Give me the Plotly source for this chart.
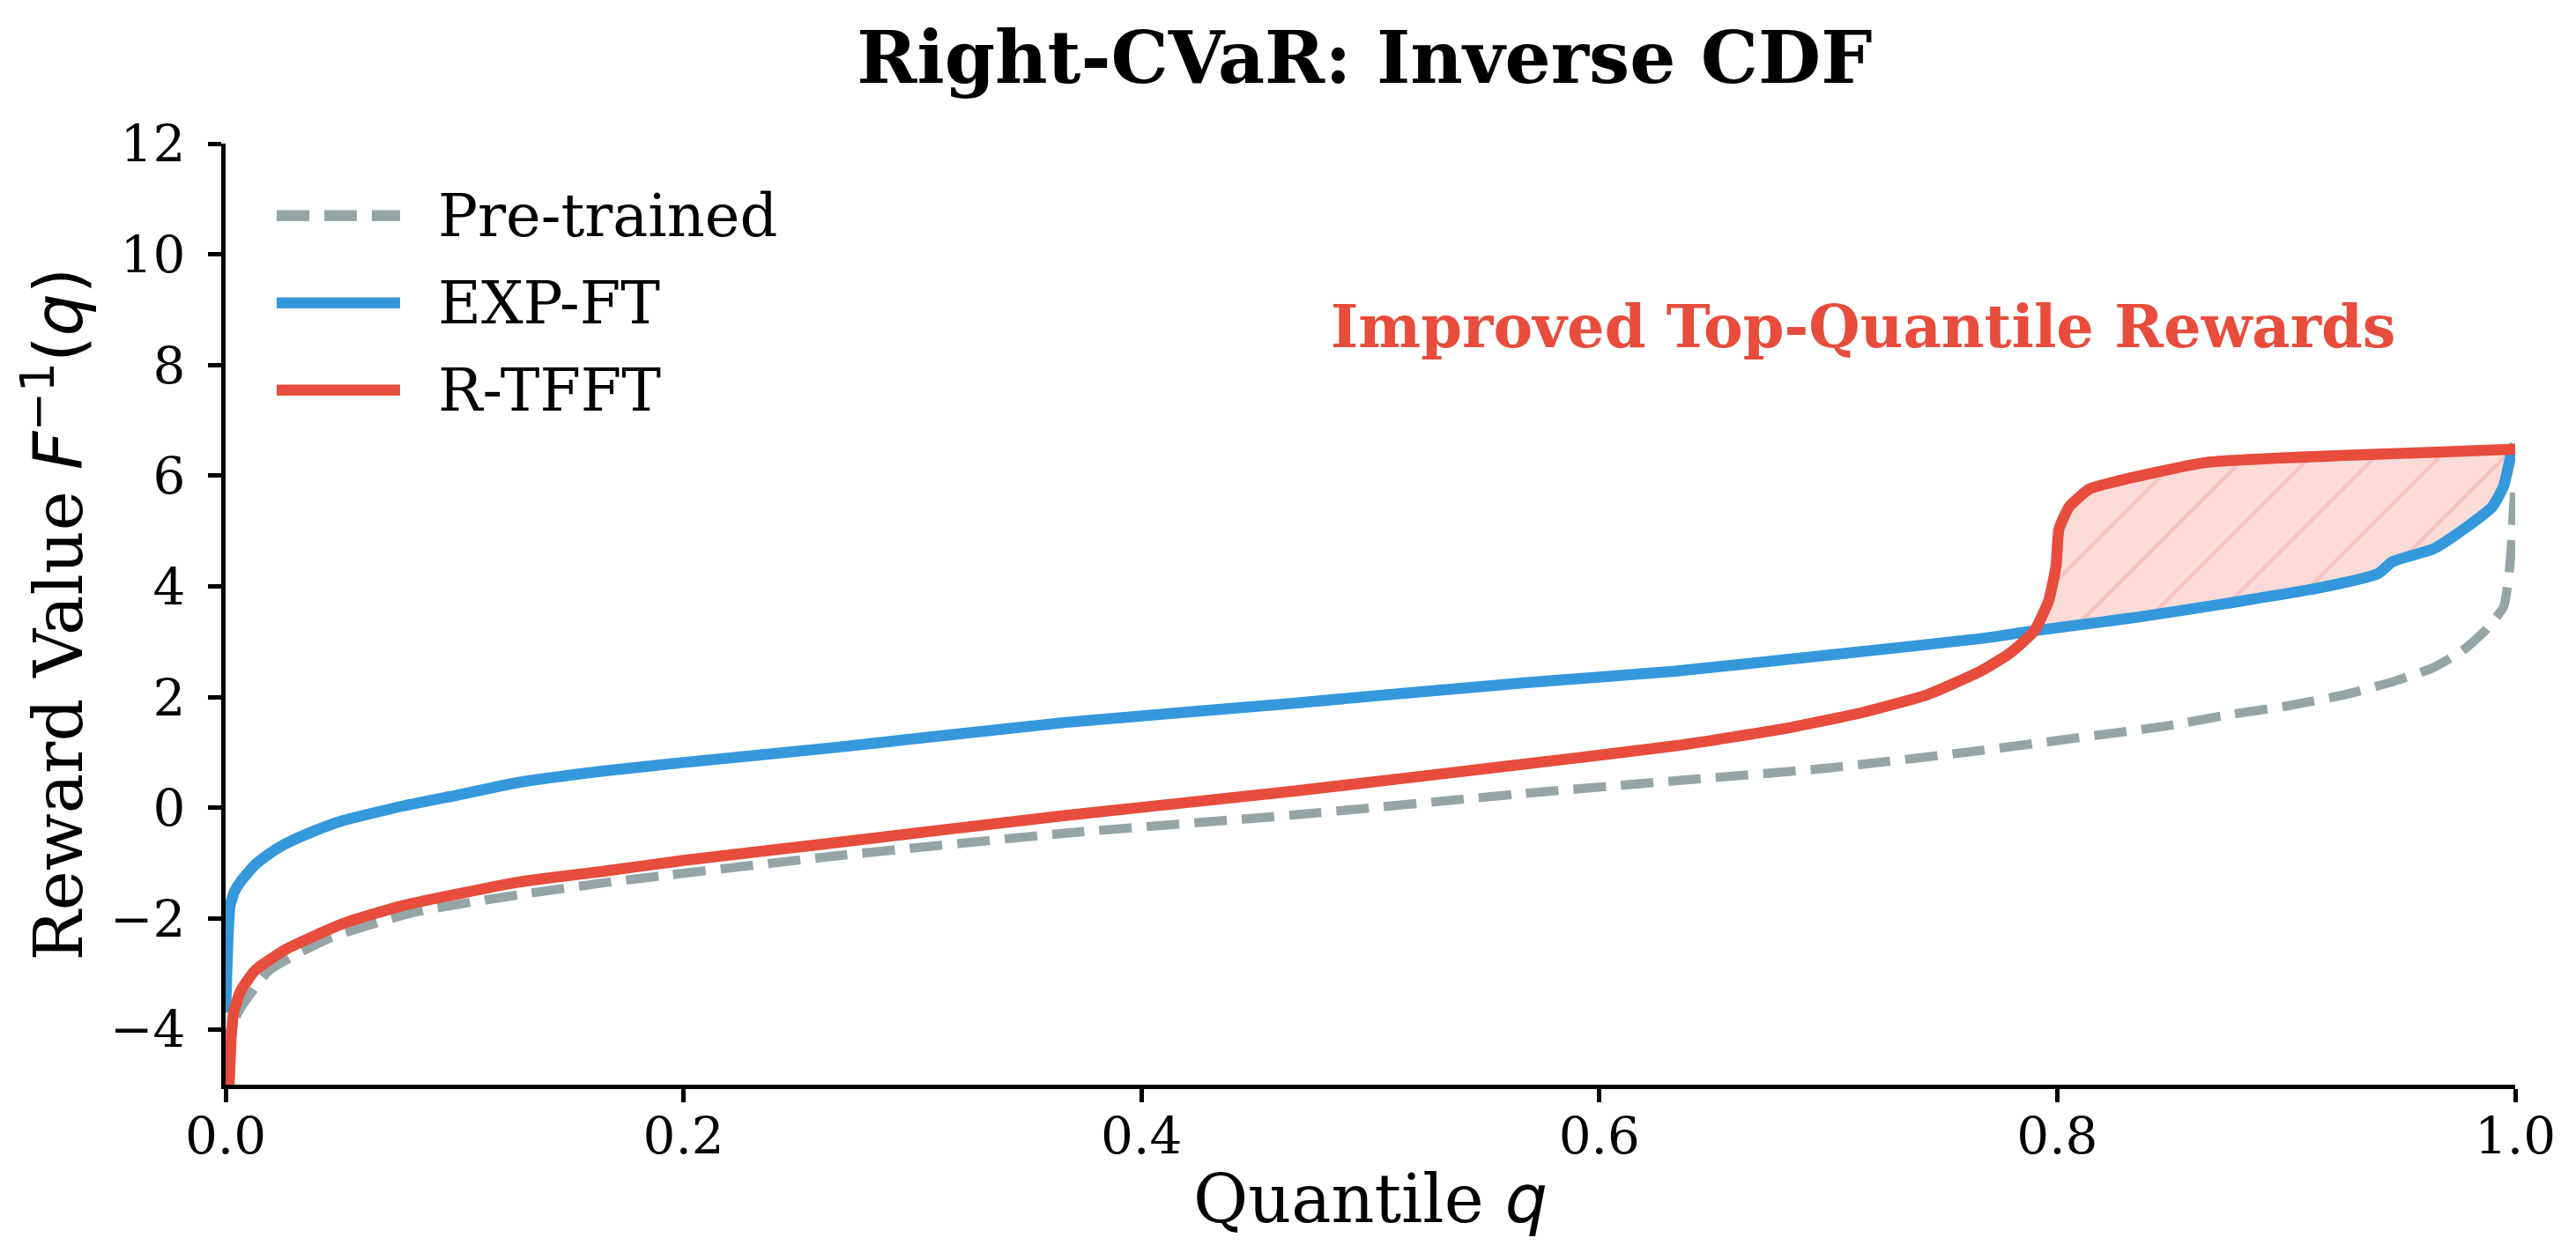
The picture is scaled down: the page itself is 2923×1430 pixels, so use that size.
import plotly.graph_objects as go

# ---- data ----
series_names = ["Pre-trained", "EXP-FT", "R-TFFT"]

pre_q = [0, 0.002, 0.0064, 0.019, 0.045, 0.083, 0.128, 0.166, 0.192, 0.266, 0.366, 0.466,
         0.567, 0.633, 0.7, 0.767, 0.849, 0.8745, 0.9, 0.926, 0.945, 0.964, 0.977, 0.987,
         0.995, 0.9977, 1.0]
pre_v = [-4.6, -4.0, -3.63, -2.94, -2.36, -1.88, -1.57, -1.35, -1.22, -0.87, -0.46, -0.13,
         0.26, 0.49, 0.72, 1.04, 1.49, 1.68, 1.84, 2.05, 2.26, 2.53, 2.84, 3.21,
         3.64, 4.39, 5.95]

exp_q = [0, 0.0005, 0.001, 0.0019, 0.004, 0.0064, 0.0128, 0.019, 0.0257, 0.038, 0.0513,
         0.077, 0.1, 0.128, 0.166, 0.2, 0.266, 0.366, 0.466, 0.567, 0.633, 0.7, 0.767, 0.79,
         0.818, 0.836, 0.872, 0.914, 0.94, 0.9465, 0.9643, 0.977, 0.99, 0.995, 0.9983, 1.0]
exp_v = [-3.7, -3.0, -2.4, -1.77, -1.5, -1.34, -1.03, -0.83, -0.66, -0.43, -0.23,
         0.03, 0.22, 0.46, 0.67, 0.82, 1.09, 1.54, 1.89, 2.26, 2.47, 2.76, 3.06, 3.2,
         3.35, 3.45, 3.68, 3.97, 4.23, 4.45, 4.68, 5.02, 5.44, 5.82, 6.40, 6.56]

rt_q = [0, 0.0015, 0.0025, 0.0035, 0.0064, 0.0128, 0.0257, 0.0513, 0.077, 0.128, 0.166,
        0.2, 0.266, 0.366, 0.466, 0.567, 0.633, 0.682, 0.7155, 0.7436, 0.767, 0.7795,
        0.79, 0.7963, 0.7995, 0.8007, 0.8052, 0.814, 0.823, 0.865, 0.967, 1.0]
rt_v = [-5.5, -5.0, -4.1, -3.7, -3.32, -2.94, -2.57, -2.09, -1.77, -1.34, -1.14,
        -0.95, -0.63, -0.14, 0.30, 0.79, 1.12, 1.44, 1.73, 2.05, 2.48, 2.80,
        3.2, 3.75, 4.39, 5.03, 5.44, 5.76, 5.87, 6.24, 6.43, 6.48]

x_ticks = [0.0, 0.2, 0.4, 0.6, 0.8, 1.0]
y_ticks = [-4, -2, 0, 2, 4, 6, 8, 10, 12]

GRAY = "#95a5a6"
BLUE = "#3498db"
RED = "#e74c3c"
SERIF = "DejaVu Serif"

fig = go.Figure()

# shaded gain region where R-TFFT beats EXP-FT (from the crossing to q=1)
q_cross = 0.79
fill_x = [q for q in rt_q if q >= q_cross] + [q for q in exp_q if q >= q_cross][::-1]
fill_y = [v for q, v in zip(rt_q, rt_v) if q >= q_cross] + \
         [v for q, v in zip(exp_q, exp_v) if q >= q_cross][::-1]
fig.add_trace(go.Scatter(x=fill_x, y=fill_y, mode="lines", fill="toself",
                         line=dict(width=0, color="rgba(0,0,0,0)"),
                         fillcolor="rgba(231,76,60,0.2)",
                         fillpattern=dict(shape="/", fgcolor="rgba(231,76,60,0.35)",
                                          bgcolor="rgba(231,76,60,0.2)", size=52,
                                          solidity=0.08),
                         hoverinfo="skip", showlegend=False))

fig.add_trace(go.Scatter(x=pre_q, y=pre_v, mode="lines", name=series_names[0],
                         line=dict(color=GRAY, width=10.4, dash="37px,17px",
                                   shape="spline", smoothing=0.5),
                         showlegend=False))
fig.add_trace(go.Scatter(x=exp_q, y=exp_v, mode="lines", name=series_names[1],
                         line=dict(color=BLUE, width=12.5, shape="spline", smoothing=0.5),
                         showlegend=False))
fig.add_trace(go.Scatter(x=rt_q, y=rt_v, mode="lines", name=series_names[2],
                         line=dict(color=RED, width=12.5, shape="spline", smoothing=0.5),
                         showlegend=False))

# hand-made legend (matplotlib-style long handles)
leg_colors = [GRAY, BLUE, RED]
leg_dash = ["37px,17px", "solid", "solid"]
leg_rows = [0.9235, 0.8308, 0.7381]
shapes = []
annotations = []
for name, col, dash, yy in zip(series_names, leg_colors, leg_dash, leg_rows):
    shapes.append(dict(type="line", xref="paper", yref="paper", x0=0.0223, x1=0.0762,
                       y0=yy, y1=yy, line=dict(color=col, width=12.5, dash=dash)))
    annotations.append(dict(xref="paper", yref="paper", x=0.092, y=yy, text=name,
                            showarrow=False, xanchor="left", yanchor="middle",
                            font=dict(family=SERIF, size=67, color="black")))

annotations.append(dict(x=0.7155, y=8.7, xref="x", yref="y",
                        text="<b>Improved Top-Quantile Rewards</b>", showarrow=False,
                        xanchor="center", yanchor="middle",
                        font=dict(family=SERIF, size=67, color=RED)))

fig.update_layout(
    width=2923, height=1430,
    margin=dict(l=248, r=77, t=155, b=207),
    paper_bgcolor="white", plot_bgcolor="white",
    title=dict(text="<b>Right-CVaR: Inverse CDF</b>", x=0.527, xanchor="center",
               y=0.96, yanchor="middle", font=dict(family=SERIF, size=82, color="black")),
    shapes=shapes, annotations=annotations, showlegend=False,
)

axis_common = dict(showline=True, linewidth=5, linecolor="black", mirror=False,
                   showgrid=False, zeroline=False, ticks="outside", ticklen=15,
                   tickwidth=5, tickcolor="black",
                   tickfont=dict(family=SERIF, size=58, color="black"))

fig.update_xaxes(range=[0, 1], tickvals=x_ticks, tickformat=".1f",
                 title=dict(text='Quantile <span style="font-family:DejaVu Sans"><i>q</i></span>',
                            font=dict(family=SERIF, size=76, color="black"), standoff=14),
                 ticklabelstandoff=-12,
                 **axis_common)
fig.update_yaxes(range=[-5, 12], tickvals=y_ticks,
                 title=dict(text='Reward Value <span style="font-family:DejaVu Sans"><i>F</i>'
                                 '<sup>\u22121</sup>(<i>q</i>)</span>',
                            font=dict(family=SERIF, size=76, color="black"), standoff=8),
                 ticklabelstandoff=14,
                 **axis_common)

fig.write_html("out.html")
